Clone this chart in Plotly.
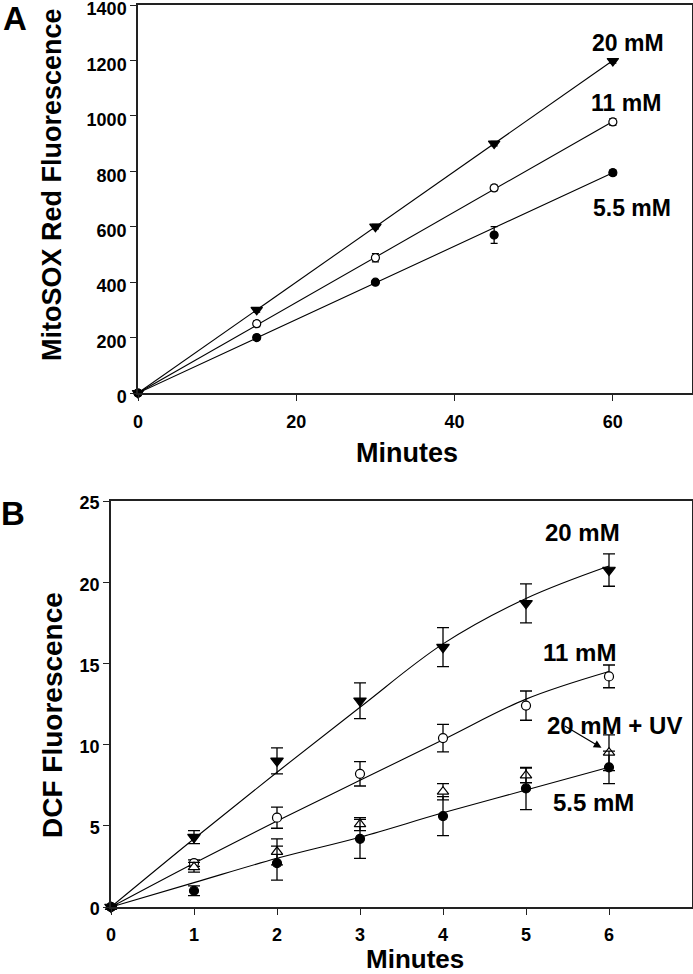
import plotly.graph_objects as go

W, H = 693, 974

# ---------------- Panel A data (MitoSOX) ----------------
minutes_A = [0, 15, 30, 45, 60]
mito_20 = [0, 300, 600, 900, 1198]
mito_20_err = [0, 8, 8, 8, 8]
mito_11 = [0, 250, 488, 740, 978]
mito_11_err = [0, 10, 15, 10, 12]
mito_55 = [0, 200, 400, 570, 795]
mito_55_err = [0, 8, 8, 30, 10]
fit_A_20 = [0, 300, 600, 900, 1200]
fit_A_11 = [0, 245, 490, 735, 980]
fit_A_55 = [0, 198, 397, 596, 795]

# ---------------- Panel B data (DCF) ----------------
minutes_B = [0, 1, 2, 3, 4, 5, 6]
dcf_20 = [0, 4.3, 9.0, 12.7, 16.0, 18.7, 20.75]
dcf_20_err = [0, 0.4, 0.8, 1.1, 1.2, 1.2, 1.0]
dcf_11 = [0, 2.7, 5.5, 8.2, 10.4, 12.4, 14.2]
dcf_11_err = [0, 0.2, 0.65, 0.75, 0.85, 0.9, 0.7]
dcf_20uv = [0, 2.45, 3.4, 5.1, 7.1, 8.1, 9.5]
dcf_20uv_err = [0, 0.3, 0.8, 0.4, 0.5, 0.45, 1.1]
dcf_55 = [0, 1.0, 2.7, 4.2, 5.6, 7.3, 8.6]
dcf_55_err = [0, 0.3, 1.05, 1.2, 1.2, 1.3, 1.0]
fit_B_20 = [0, 4.2, 8.3, 12.3, 16.2, 19.0, 21.0]
fit_B_11 = [0, 2.7, 5.3, 7.8, 10.3, 12.8, 14.5]
fit_B_55 = [0, 1.5, 3.0, 4.3, 5.8, 7.2, 8.6]

FONT = "Liberation Sans, Arial, sans-serif"
BLACK = "#000000"

fig = go.Figure()

def line(x, y, xa, ya, shape="linear"):
    fig.add_trace(go.Scatter(x=x, y=y, mode="lines", xaxis=xa, yaxis=ya,
                             line=dict(color=BLACK, width=1.1, shape=shape, smoothing=1.0),
                             hoverinfo="skip", showlegend=False, cliponaxis=False))

def pts(x, y, err, xa, ya, symbol, size, capw, filled=True):
    fig.add_trace(go.Scatter(
        x=x, y=y, mode="markers", xaxis=xa, yaxis=ya, cliponaxis=False,
        marker=dict(symbol=symbol, size=size,
                    color=BLACK if filled else "white",
                    line=dict(color=BLACK, width=1.2)),
        error_y=dict(type="data", array=err, visible=True, color=BLACK,
                     thickness=1.3, width=capw),
        showlegend=False))

# Panel A
line(minutes_A, fit_A_20, "x", "y")
line(minutes_A, fit_A_11, "x", "y")
line(minutes_A, fit_A_55, "x", "y")
pts(minutes_A, mito_20, mito_20_err, "x", "y", "triangle-down", 10, 3.5)
pts(minutes_A, mito_11, mito_11_err, "x", "y", "circle", 8, 3.5, filled=False)
pts(minutes_A, mito_55, mito_55_err, "x", "y", "circle", 8, 3.5)

# Panel B
line(minutes_B, fit_B_20, "x2", "y2", "spline")
line(minutes_B, fit_B_11, "x2", "y2", "spline")
line(minutes_B, fit_B_55, "x2", "y2", "spline")
pts(minutes_B, dcf_20, dcf_20_err, "x2", "y2", "triangle-down", 11, 6)
pts(minutes_B, dcf_11, dcf_11_err, "x2", "y2", "circle", 9, 6, filled=False)
pts(minutes_B, dcf_20uv, dcf_20uv_err, "x2", "y2", "triangle-up", 10, 6, filled=False)
pts(minutes_B, dcf_55, dcf_55_err, "x2", "y2", "circle", 9, 6)

def px_x(p):
    return p / W

def px_y(p):
    return 1 - p / H

axis_common = dict(showgrid=False, zeroline=False, showline=True, linecolor="#222222",
                   linewidth=1.5, mirror=True, ticks="outside", ticklen=6, tickwidth=1.3,
                   tickcolor="#222222", automargin=False, ticklabeloverflow="allow",
                   tickfont=dict(family=FONT, size=18, color=BLACK, weight="bold"))

fig.update_layout(
    width=W, height=H, margin=dict(l=0, r=0, t=0, b=0, autoexpand=False),
    paper_bgcolor="white", plot_bgcolor="white",
    xaxis=dict(domain=[px_x(138), px_x(692)], range=[0, 70], anchor="y",
               tickvals=[0, 20, 40, 60], ticklabelstandoff=6, **axis_common),
    yaxis=dict(domain=[px_y(393), px_y(5)], range=[0, 1400], anchor="x",
               tickvals=[0, 200, 400, 600, 800, 1000, 1200, 1400], ticklabelstandoff=0,
               ticklabelshift=4, **axis_common),
    xaxis2=dict(domain=[px_x(111), px_x(692)], range=[0, 7], anchor="y2",
                tickvals=[0, 1, 2, 3, 4, 5, 6], ticklabelstandoff=5, **axis_common),
    yaxis2=dict(domain=[px_y(907), px_y(501)], range=[0, 25], anchor="x2",
                tickvals=[0, 5, 10, 15, 20, 25], ticklabelstandoff=0,
                ticklabelshift=2, **axis_common),
)

def txt(text, x, y, size, angle=0):
    fig.add_annotation(text=text, x=px_x(x), y=px_y(y), xref="paper", yref="paper",
                       xanchor="center", yanchor="middle", showarrow=False,
                       textangle=angle, borderpad=0,
                       font=dict(family=FONT, size=size, color=BLACK, weight="bold"))

# Panel letters
txt("A", 15, 19, 33)
txt("B", 13, 513, 33)

# Axis titles
txt("MitoSOX Red Fluorescence", 52, 185, 27, -90)
txt("Minutes", 407, 453, 27)
txt("DCF Fluorescence", 52, 715, 28, -90)
txt("Minutes", 415, 959, 26)

# Series labels panel A
txt("20 mM", 628, 43, 23)
txt("11 mM", 626, 103, 23)
txt("5.5 mM", 632, 208, 23)

# Series labels panel B
txt("20 mM", 582, 532, 24)
txt("11 mM", 579, 652, 24)
txt("20 mM + UV", 614, 725, 24)
txt("5.5 mM", 593, 802, 24)

# Arrow pointing to UV point
fig.add_annotation(x=5.91, y=9.8, xref="x2", yref="y2",
                   ax=5.45, ay=11.2, axref="x2", ayref="y2",
                   text="", showarrow=True, arrowhead=2, arrowsize=1.3,
                   arrowwidth=1.2, arrowcolor=BLACK)

fig.write_html("out.html", config={"displayModeBar": False})

# remove the browser's default body margin so the figure fills the window exactly
with open("out.html", "r", encoding="utf-8") as f:
    html = f.read()
html = html.replace("<head>", "<head><style>html,body{margin:0;padding:0;overflow:hidden;}</style>", 1)
with open("out.html", "w", encoding="utf-8") as f:
    f.write(html)
